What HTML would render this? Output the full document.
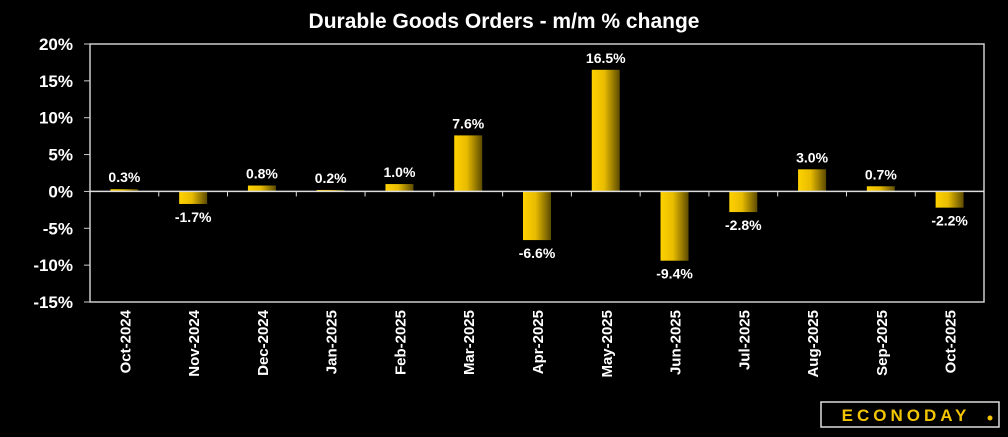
<!DOCTYPE html>
<html><head><meta charset="utf-8"><style>
body{margin:0;background:#000;width:1008px;height:432px;overflow:hidden;font-family:"Liberation Sans",sans-serif}
</style></head><body>
<svg width="1008" height="432">
<defs><linearGradient id="g" x1="0" x2="1" y1="0" y2="0"><stop offset="0" stop-color="#ffd200"/><stop offset="0.45" stop-color="#e8bc00"/><stop offset="1" stop-color="#5c4a00"/></linearGradient></defs>
<text x="504" y="28" fill="#fff" font-size="21" font-weight="bold" text-anchor="middle">Durable Goods Orders - m/m % change</text>
<rect x="90" y="44" width="894" height="258" fill="none" stroke="#ccc" stroke-width="1.5"/>
<g id="yax"></g><g id="bars"></g><g id="xax"></g>
<g>
<rect x="821" y="402" width="178" height="25" fill="#000" stroke="#ddd" stroke-width="1.5"/>
<text x="906" y="421" fill="#f2c500" font-size="17" font-weight="bold" text-anchor="middle" letter-spacing="4">ECONODAY</text>
<circle cx="990" cy="418" r="2.5" fill="#f2c500"/>
</g>
</svg>
<script>
const categories=["Oct-2024","Nov-2024","Dec-2024","Jan-2025","Feb-2025","Mar-2025","Apr-2025","May-2025","Jun-2025","Jul-2025","Aug-2025","Sep-2025","Oct-2025"];
const values=[0.3,-1.7,0.8,0.2,1.0,7.6,-6.6,16.5,-9.4,-2.8,3.0,0.7,-2.2];
const yTicks=[20,15,10,5,0,-5,-10,-15];
const NS="http://www.w3.org/2000/svg";
const x0=90,x1=984,yTop=44,yBot=302,yMax=20,yMin=-15;
const y=v=>yTop+(yMax-v)/(yMax-yMin)*(yBot-yTop);
const bw=(x1-x0)/categories.length;
const xc=i=>x0+bw*(i+0.5);
function mk(t,a,p){const e=document.createElementNS(NS,t);for(const k in a)e.setAttribute(k,a[k]);p.appendChild(e);return e;}
const yax=document.getElementById('yax'),bars=document.getElementById('bars'),xax=document.getElementById('xax');
yTicks.forEach(v=>{const t=mk('text',{x:73,y:y(v)+6,fill:'#fff','font-size':17,'font-weight':'bold','text-anchor':'end'},yax);t.textContent=v+'%';


mk('line',{x1:84,x2:90,y1:y(v),y2:y(v),stroke:'#ccc'},yax);});
const z=y(0);
mk('line',{x1:x0,x2:x1,y1:z,y2:z,stroke:'#ddd','stroke-width':1.5},xax);
categories.forEach((c,i)=>{
 const v=values[i],cx=xc(i);
 const r=mk('rect',{x:cx-14,y:Math.min(y(v),z),width:28,height:Math.abs(y(v)-z),fill:'url(#g)'},bars);
 
 
 const ly=v>=0?y(v)-7:y(v)+18;
 const t=mk('text',{x:cx,y:ly,fill:'#fff','font-size':14,'font-weight':'bold','text-anchor':'middle'},bars);t.textContent=v.toFixed(1)+'%';
 
 
 mk('line',{x1:x0+bw*i,x2:x0+bw*i,y1:z,y2:z+5,stroke:'#ddd'},xax);
 const xl=mk('text',{x:0,y:0,fill:'#fff','font-size':15,'font-weight':'bold','text-anchor':'end',transform:`translate(${cx+6},310) rotate(-90)`},xax);xl.textContent=c;
 
 
});
</script>
</body></html>
